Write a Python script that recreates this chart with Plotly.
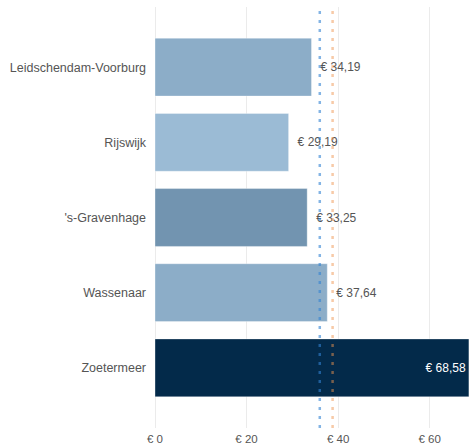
import plotly.graph_objects as go

categories = ["Leidschendam-Voorburg", "Rijswijk", "'s-Gravenhage", "Wassenaar", "Zoetermeer"]
values = [34.19, 29.19, 33.25, 37.64, 68.58]
bar_colors = ["#8CADC8", "#9BBBD5", "#7294B0", "#8CADC8", "#032A4A"]
ref_blue = 36.0
ref_orange = 38.8
x_ticks = [0, 20, 40, 60]
x_tick_labels = ["€ 0", "€ 20", "€ 40", "€ 60"]

labels = ["\u2002€ " + f"{v:.2f}".replace(".", ",") for v in values]
positions = ["inside" if v > 60 else "outside" for v in values]
text_colors = ["#ffffff" if v > 60 else "#555555" for v in values]

fig = go.Figure()
fig.add_trace(go.Bar(
    y=categories, x=values, orientation="h",
    marker=dict(color=bar_colors, line=dict(color="rgba(255,255,255,0.35)", width=1)),
    text=labels, textposition=positions, insidetextanchor="end",
    textfont=dict(color=text_colors, size=12, family="Liberation Sans, Arial"),
    cliponaxis=False,
    constraintext="none",
    hoverinfo="skip",
))

for xv, col in [(ref_blue, "rgba(50,130,210,0.6)"), (ref_orange, "rgba(240,150,80,0.5)")]:
    fig.add_shape(type="line", xref="x", yref="paper", x0=xv, x1=xv, y0=0, y1=1,
                  line=dict(color=col, width=2.5, dash="3px,6px"), layer="above")

fig.update_layout(
    width=469, height=447,
    margin=dict(l=155, r=0, t=7, b=19),
    plot_bgcolor="white", paper_bgcolor="white",
    font=dict(family="Liberation Sans, Arial", size=11, color="#555555"),
    bargap=0.23,
    showlegend=False,
)
fig.update_xaxes(range=[0, 68.6], tickvals=x_ticks, ticktext=x_tick_labels,
                 showgrid=True, gridcolor="#ebebeb", gridwidth=1,
                 zeroline=True, zerolinecolor="#ebebeb", zerolinewidth=1,
                 showline=False, automargin=False, ticklabelstandoff=2,
                 tickfont=dict(size=11.5, color="#555555"))
fig.update_yaxes(categoryorder="array", categoryarray=categories,
                 range=[4.8, -0.8], showgrid=False, zeroline=False,
                 automargin=False, ticklabelstandoff=8,
                 tickfont=dict(size=12.5, color="#555555"))

fig.write_html("out.html", config={"displayModeBar": False},
               post_script="document.body.style.margin='0';document.body.style.overflow='hidden';")
